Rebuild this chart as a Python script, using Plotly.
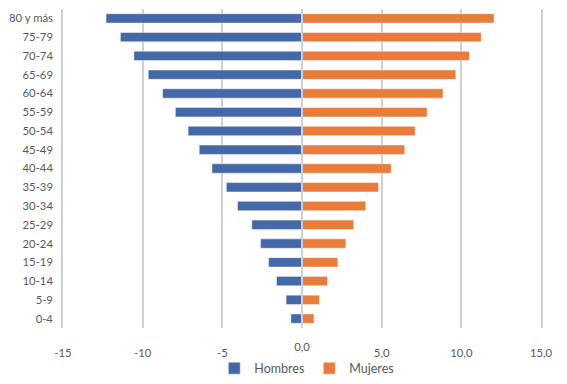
import plotly.graph_objects as go

grupos = ["80 y más", "75-79", "70-74", "65-69", "60-64", "55-59", "50-54", "45-49",
          "40-44", "35-39", "30-34", "25-29", "20-24", "15-19", "10-14", "5-9", "0-4"]
hombres = [-12.3, -11.4, -10.55, -9.65, -8.75, -7.95, -7.15, -6.45,
           -5.65, -4.75, -4.05, -3.15, -2.6, -2.1, -1.6, -1.0, -0.7]
mujeres = [12.05, 11.25, 10.5, 9.65, 8.85, 7.85, 7.1, 6.45,
           5.6, 4.8, 4.0, 3.25, 2.75, 2.25, 1.6, 1.1, 0.75]

tick_vals = [-15, -10, -5, 5, 10, 15]
tick_text = ["-15", "-10", "-5", "5,0", "10,0", "15,0"]
zero_val = [0]
zero_text = ["0,0"]

AZUL = "#4469A9"
NARANJA = "#E97B3B"
GRIS = "#D0D0D0"
TXT = "#595959"
FONT = "Lato"
FS = 11.3

fig = go.Figure()
fig.add_trace(go.Bar(
    y=grupos, x=hombres, orientation="h", name="Hombres",
    marker=dict(color=AZUL, line=dict(color="rgba(255,255,255,0.6)", width=0.8)),
    width=0.5, xaxis="x", yaxis="y",
))
fig.add_trace(go.Bar(
    y=grupos, x=mujeres, orientation="h", name="Mujeres",
    marker=dict(color=NARANJA, line=dict(color="rgba(255,255,255,0.6)", width=0.8)),
    width=0.5, xaxis="x2", yaxis="y2",
))

fig.update_layout(
    width=551, height=368,
    margin=dict(l=55, r=18, t=1, b=48),
    paper_bgcolor="white", plot_bgcolor="white",
    font=dict(family=FONT, size=FS, color=TXT),
    barmode="overlay",
    showlegend=True,
    legend=dict(orientation="h", x=0.51, xanchor="center",
                yref="container", y=0.061, yanchor="top",
                bgcolor="rgba(0,0,0,0)",
                font=dict(family=FONT, size=12.5, color=TXT),
                itemwidth=30, tracegroupgap=0),
    xaxis=dict(range=[-15, 15], tickvals=tick_vals, ticktext=tick_text,
               showgrid=True, gridcolor=GRIS, gridwidth=1.6,
               zeroline=False, showline=False, automargin=False,
               ticks="outside", ticklen=14, tickcolor="rgba(0,0,0,0)",
               tickfont=dict(family=FONT, size=FS, color=TXT)),
    xaxis2=dict(range=[-15, 15], overlaying="x", anchor="y", matches="x",
                tickvals=zero_val, ticktext=zero_text, showgrid=False,
                zeroline=False, showline=False, automargin=False,
                ticks="outside", ticklen=8, tickcolor="rgba(0,0,0,0)",
                tickfont=dict(family=FONT, size=FS, color=TXT)),
    yaxis=dict(categoryorder="array", categoryarray=grupos, autorange="reversed",
               showgrid=False, zeroline=False, automargin=False,
               showline=True, mirror=True, linecolor=GRIS, linewidth=1.6,
               ticks="outside", ticklen=6, tickcolor="rgba(0,0,0,0)",
               tickfont=dict(family=FONT, size=FS, color=TXT)),
    yaxis2=dict(overlaying="y", matches="y", anchor="free", position=0.5,
                showticklabels=False, showgrid=False, zeroline=False, automargin=False,
                showline=True, linecolor=GRIS, linewidth=2, layer="above traces",
                ticks=""),
)

fig.write_html("out.html")
